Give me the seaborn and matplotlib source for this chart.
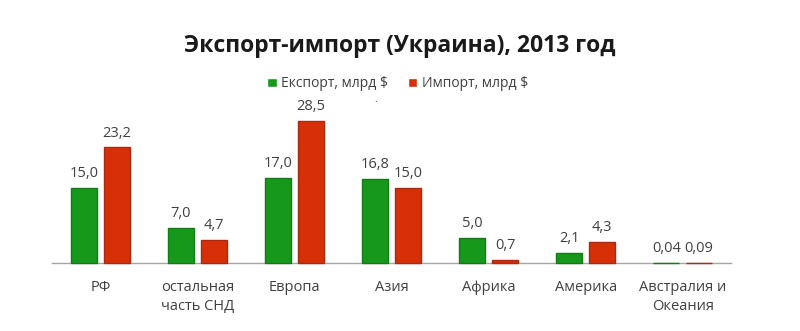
import matplotlib
matplotlib.use("Agg")
import matplotlib.pyplot as plt
import seaborn as sns
import pandas as pd

# Regions and trade volumes (billion USD), 2013
regions = ["РФ", "остальная\nчасть СНД", "Европа", "Азия", "Африка", "Америка", "Австралия и\nОкеания"]
export_vals = [15.0, 7.0, 17.0, 16.8, 5.0, 2.1, 0.04]
import_vals = [23.2, 4.7, 28.5, 15.0, 0.7, 4.3, 0.09]
export_labels = ["15,0", "7,0", "17,0", "16,8", "5,0", "2,1", "0,04"]
import_labels = ["23,2", "4,7", "28,5", "15,0", "0,7", "4,3", "0,09"]
series_names = ["Експорт, млрд $", "Импорт, млрд $"]

sns.set_theme(style="white")
plt.rcParams["font.family"] = ["Open Sans", "DejaVu Sans"]

df = pd.DataFrame({
    "region": regions * 2,
    "value": export_vals + import_vals,
    "series": [series_names[0]] * len(regions) + [series_names[1]] * len(regions),
})

fig = plt.figure(figsize=(8.0, 3.31), dpi=100)
ax = fig.add_axes([0.065, 0.2054, 0.849, 0.4514])

palette = {series_names[0]: "#16991a", series_names[1]: "#d72f08"}
sns.barplot(data=df, x="region", y="value", hue="series", palette=palette,
            width=0.68, gap=0.21, saturation=1, ax=ax, legend=True)

# darker outline so even the tiniest bars stay visible above the axis
edge_cols = ["#137a16", "#a82a10"]
for container, ec in zip(ax.containers, edge_cols):
    for patch in container:
        patch.set_edgecolor(ec)
        patch.set_linewidth(1.0)
        patch.set_zorder(3)
        patch.set_clip_on(False)

# value labels above bars
for container, labels in zip(ax.containers, [export_labels, import_labels]):
    ax.bar_label(container, labels=labels, padding=5, fontsize=10.5, color="#404040")

ax.set_ylim(0, 30)
ax.set_xlim(-0.5, len(regions) - 0.5)
ax.set_xlabel("")
ax.set_ylabel("")
ax.set_yticks([])
for side in ["left", "right", "top"]:
    ax.spines[side].set_visible(False)
ax.spines["bottom"].set_color("#a6a6a6")
ax.spines["bottom"].set_linewidth(1.0)
ax.spines["bottom"].set_zorder(2)
ax.tick_params(axis="x", length=0, pad=12, labelsize=10.5, labelcolor="#404040")
for lbl in ax.get_xticklabels():
    lbl.set_linespacing(1.4)

leg = ax.legend(loc="center", bbox_to_anchor=(0.497, 0.747), bbox_transform=fig.transFigure,
                ncol=2, frameon=False, fontsize=10, handlelength=0.7, handleheight=0.7,
                handletextpad=0.3, columnspacing=1.4, labelcolor="#404040")

fig.text(0.5, 0.86, "Экспорт-импорт (Украина), 2013 год", ha="center", va="center",
         fontsize=16.5, fontweight="bold", color="#1a1a1a")
fig.text(0.47, 0.70, ".", ha="center", va="center", fontsize=7, color="#404040")

fig.savefig("out.png", dpi=100, facecolor="white")
